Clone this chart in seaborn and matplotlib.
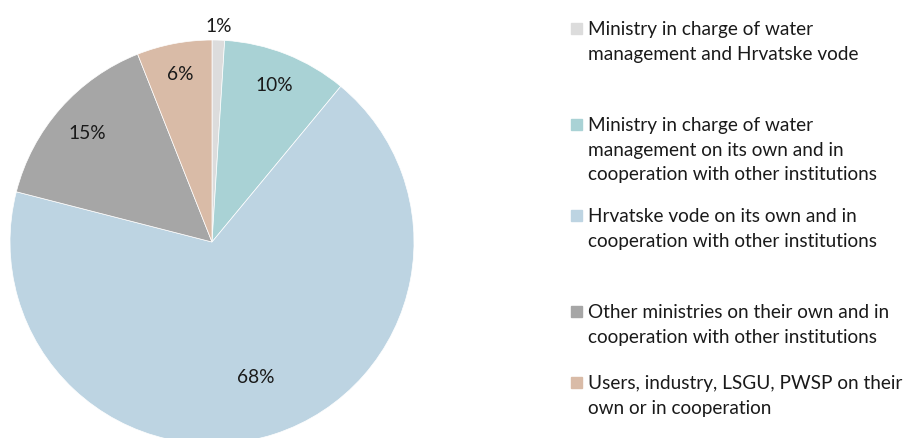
import numpy as np
import matplotlib
matplotlib.use("Agg")
import matplotlib.pyplot as plt
import seaborn as sns

categories = [
    "Ministry in charge of water\nmanagement and Hrvatske vode",
    "Ministry in charge of water\nmanagement on its own and in\ncooperation with other institutions",
    "Hrvatske vode on its own and in\ncooperation with other institutions",
    "Other ministries on their own and in\ncooperation with other institutions",
    "Users, industry, LSGU, PWSP on their\nown or in cooperation",
]
values = [1, 10, 68, 15, 6]
pct_labels = ["1%", "10%", "68%", "15%", "6%"]
colors = ["#DCDCDC", "#A9D2D5", "#BDD4E2", "#A6A6A6", "#D9BBA7"]

sns.set_theme(style="white")
plt.rcParams["font.family"] = ["Lato", "DejaVu Sans"]

W, H = 909, 439
fig = plt.figure(figsize=(W / 100, H / 100), dpi=100)
cx, cy, r = 212, 243, 202
ax = fig.add_axes([(cx - r) / W, (H - cy - r) / H, 2 * r / W, 2 * r / H])
wedges, _ = ax.pie(values, colors=colors, startangle=90, counterclock=False,
                   radius=1, wedgeprops=dict(edgecolor="white", linewidth=0.5))
ax.set_xlim(-1, 1)
ax.set_ylim(-1, 1)
ax.set_aspect("equal")
ax.axis("off")

label_r = [1.07, 0.84, 0.70, 0.82, 0.85]
for w, lab, lr in zip(wedges, pct_labels, label_r):
    th = np.deg2rad((w.theta1 + w.theta2) / 2)
    ax.text(lr * np.cos(th), lr * np.sin(th), lab, ha="center", va="center",
            fontsize=13.8, color="#1a1a1a")

# legend
entry_y = [30, 126, 217, 313, 384]
line_h = 24.5
for lab, col, y0 in zip(categories, colors, entry_y):
    fig.patches.append(plt.Rectangle((571 / W, 1 - (y0 + 5) / H), 11 / W, 11 / H,
                                     transform=fig.transFigure, color=col, figure=fig))
    for i, line in enumerate(lab.split("\n")):
        fig.text(588 / W, 1 - (y0 + i * line_h) / H, line, ha="left", va="center",
                 fontsize=13.7, color="#1a1a1a")

fig.savefig("out.png", dpi=100)
